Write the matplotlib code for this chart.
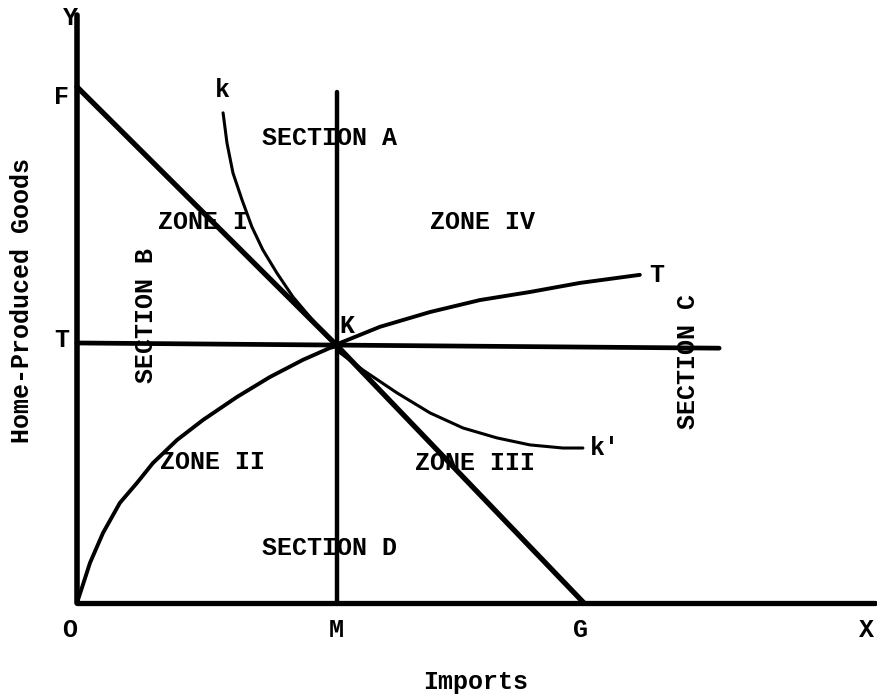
# Trade diagram: home-produced goods vs imports, with the K point,
# the FG budget line, the kk' and TT curves, and the zone/section labels.

import matplotlib
matplotlib.use("Agg")
import matplotlib.pyplot as plt

# Axis extents (data units, origin at O)
Y_AXIS_TOP = 22.6
X_AXIS_END = 30.7

# Straight lines
FG_X = [0, 10, 19.5]
FG_Y = [19.85, 9.9, 0]
M_LINE_X = [10, 10]
M_LINE_Y = [0, 19.65]
T_LINE_X = [0, 24.7]
T_LINE_Y = [10.0, 9.8]

# kk' curve
KK_X = [5.62, 5.77, 6.00, 6.35, 6.73, 7.15, 7.69, 8.31, 8.96, 9.62, 10.0,
        10.12, 11.0, 12.31, 13.58, 14.85, 16.15, 17.42, 18.69, 19.46]
KK_Y = [18.85, 17.69, 16.54, 15.50, 14.46, 13.58, 12.69, 11.77, 11.00, 10.23, 9.88,
        9.62, 8.96, 8.08, 7.31, 6.73, 6.35, 6.08, 5.96, 5.96]

# TT curve
TT_X = [0, 0.19, 0.5, 1.0, 1.65, 2.31, 2.92, 3.85, 4.85, 6.15, 7.42, 8.69, 9.73,
        10.0, 10.12, 11.65, 13.58, 15.5, 17.42, 19.35, 21.65]
TT_Y = [0, 0.58, 1.54, 2.69, 3.85, 4.62, 5.38, 6.27, 7.04, 7.92, 8.69, 9.35, 9.81,
        9.88, 10.0, 10.62, 11.19, 11.65, 11.96, 12.31, 12.62]

# Point letters on the axes
AXIS_LETTERS = ["O", "M", "G", "X"]
AXIS_LETTER_X = [-0.27, 9.96, 19.35, 30.35]
SIDE_LETTERS = ["Y", "F", "T"]
SIDE_LETTER_X = [-0.27, -0.58, -0.58]
SIDE_LETTER_Y = [22.5, 19.46, 10.1]

FONT = "Liberation Mono"


def label(ax, x, y, text, size=18, rotation=0):
    ax.text(x, y, text, fontsize=size, family=FONT, fontweight="bold",
            ha="center", va="center", rotation=rotation, color="black")


def draw():
    fig = plt.figure(figsize=(8.78, 6.94), dpi=100)
    ax = fig.add_axes([0, 0, 1, 1])
    ax.set_xlim(-2.96, 30.81)
    ax.set_ylim(-3.5, 23.19)
    ax.axis("off")

    # axes
    ax.plot([0, 0], [0, Y_AXIS_TOP], color="black", lw=4, solid_capstyle="round")
    ax.plot([0, X_AXIS_END], [0, 0], color="black", lw=3.8, solid_capstyle="round")

    ax.plot(FG_X, FG_Y, color="black", lw=3.8, solid_capstyle="round")
    ax.plot(M_LINE_X, M_LINE_Y, color="black", lw=3.2, solid_capstyle="round")
    ax.plot(T_LINE_X, T_LINE_Y, color="black", lw=3.4, solid_capstyle="round")
    ax.plot(KK_X, KK_Y, color="black", lw=2.2, solid_capstyle="round",
            solid_joinstyle="round")
    ax.plot(TT_X, TT_Y, color="black", lw=2.8, solid_capstyle="round",
            solid_joinstyle="round")

    for name, x in zip(AXIS_LETTERS, AXIS_LETTER_X):
        label(ax, x, -1.04, name)
    for name, x, y in zip(SIDE_LETTERS, SIDE_LETTER_X, SIDE_LETTER_Y):
        label(ax, x, y, name)

    label(ax, 5.58, 19.73, "k")
    label(ax, 10.38, 10.65, "K")
    label(ax, 22.3, 12.6, "T")
    label(ax, 20.3, 5.96, "k'")

    label(ax, 9.73, 17.88, "SECTION A")
    label(ax, 2.65, 11.04, "SECTION B", rotation=90)
    label(ax, 23.5, 9.27, "SECTION C", rotation=90)
    label(ax, 9.73, 2.12, "SECTION D")
    label(ax, 4.85, 14.65, "ZONE I")
    label(ax, 15.58, 14.65, "ZONE IV")
    label(ax, 5.23, 5.42, "ZONE II")
    label(ax, 15.3, 5.38, "ZONE III")

    label(ax, 15.35, -3.04, "Imports")
    label(ax, -2.12, 11.65, "Home-Produced Goods", rotation=90)

    fig.savefig("out.png", dpi=100, facecolor="white")


if __name__ == "__main__":
    draw()
